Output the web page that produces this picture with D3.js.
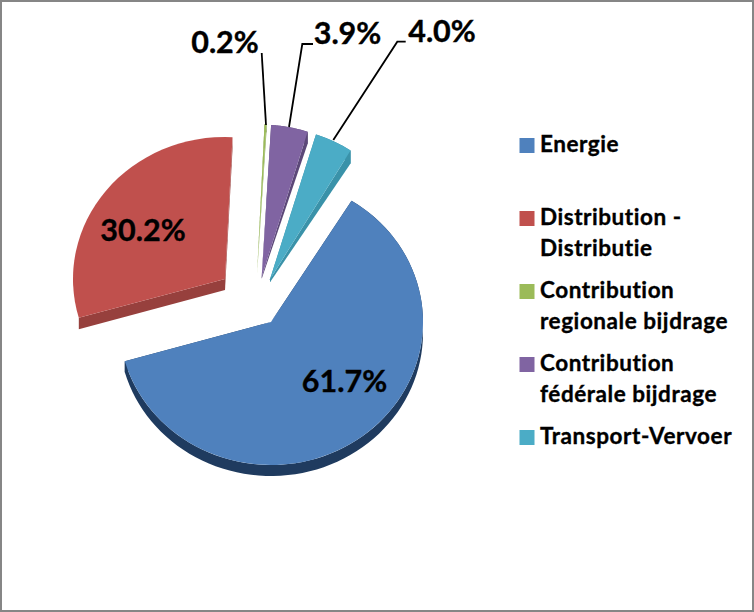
<!DOCTYPE html>
<html><head><meta charset="utf-8">
<script src="https://cdn.jsdelivr.net/npm/d3@7"></script>
<style>html,body{margin:0;padding:0;background:#fff}svg{display:block}text{font-family:Lato,"Open Sans",sans-serif;font-weight:700;fill:#000;stroke:#000;stroke-width:.35px;font-variant-ligatures:none}</style>
</head><body>
<svg id="c" width="754" height="612"></svg>
<script>
const categories = ["Energie","Distribution - Distributie","Contribution regionale bijdrage","Contribution fédérale bijdrage","Transport-Vervoer"];
const values = [61.7,30.2,0.2,3.9,4.0];
const valueLabels = ["61.7%","30.2%","0.2%","3.9%","4.0%"];
const legendLines = [["Energie"],["Distribution -","Distributie"],["Contribution","regionale bijdrage"],["Contribution","fédérale bijdrage"],["Transport-Vervoer"]];
const faceColors = ["#4f81bd","#c0504d","#9bbb59","#8064a2","#4bacc6"];
const wallColors = ["#1f3b5f","#97403d","#7c9747","#5c4878","#3a92a9"];

// layout of the exploded slices
const apexX = [271,225,257,261.7,270];
const apexY = [322,279,275,276.7,279.3];
const radiusY = [143,142,151,152,152];
const rimDepth = [11,11.5,8,12,13];
const apexDepth = [0,11,0,2,3];
const showRim = [true,false,true,true,true];
const radiusX = 152;
const startDeg = 32;
const labelX = [344.5,143,225,347.5,442];
const labelY = [392,240.5,53,44,41.7];
const leaderPts = [null,null,[[261.7,53],[266,125]],[[313,44],[302.3,44],[289,127]],[[405.7,41.7],[397.3,41.7],[333.3,140]]];
const legendSwatchY = [138,211,284,357,430];
const legendBaselines = [[151.7],[225,256],[298,328.5],[371,402],[443.5]];

const svg = d3.select("#c");
const W = 754, H = 612;
svg.append("rect").attr("x",1).attr("y",1).attr("width",W-2).attr("height",H-2)
  .attr("fill","#fff").attr("stroke","#868686").attr("stroke-width",2);

const startA = startDeg*Math.PI/180;
const pie = d3.pie().sort(null).startAngle(startA).endAngle(startA+2*Math.PI);
const arcs = pie(values);
const arcGen = d3.arc().innerRadius(0).outerRadius(radiusX);
const line = d3.line();

arcs.forEach((d,i)=>{
  const px = a => apexX[i]+radiusX*Math.sin(a);
  const py = a => apexY[i]-radiusY[i]*Math.cos(a);
  const n = 80;
  const angle = d3.scaleLinear().domain([0,n]).range([d.startAngle,d.endAngle]);
  const steps = d3.range(n+1).map(angle);
  const g = svg.append("g");
  if(showRim[i]){
    const upper = steps.map(a=>[px(a),py(a)]);
    const lower = steps.map(a=>[px(a),py(a)+rimDepth[i]]).reverse();
    g.append("path").attr("d",line(upper.concat(lower))+"Z").attr("fill",wallColors[i]);
  }
  [d.startAngle,d.endAngle].forEach(a=>{
    g.append("path").attr("d",line([[apexX[i],apexY[i]],[px(a),py(a)],[px(a),py(a)+rimDepth[i]],[apexX[i],apexY[i]+apexDepth[i]]])+"Z")
      .attr("fill",wallColors[i]);
  });
  g.append("path").attr("d",arcGen(d))
    .attr("transform",`translate(${apexX[i]},${apexY[i]}) scale(1,${radiusY[i]/radiusX})`)
    .attr("fill",faceColors[i]);
});

leaderPts.forEach(p=>{
  if(p) svg.append("path").attr("d",line(p)).attr("fill","none").attr("stroke","#000").attr("stroke-width",1.8);
});
valueLabels.forEach((t,i)=>{
  svg.append("text").attr("x",labelX[i]).attr("y",labelY[i]).attr("text-anchor","middle")
    .attr("font-size",30.5).text(t);
});
categories.forEach((c,i)=>{
  svg.append("rect").attr("x",519.5).attr("y",legendSwatchY[i]).attr("width",15).attr("height",15).attr("fill",faceColors[i]);
  legendLines[i].forEach((l,j)=>{
    svg.append("text").attr("x",540).attr("y",legendBaselines[i][j]).attr("font-size",22.5).attr("letter-spacing",0.55).text(l);
  });
});
</script>
</body></html>
